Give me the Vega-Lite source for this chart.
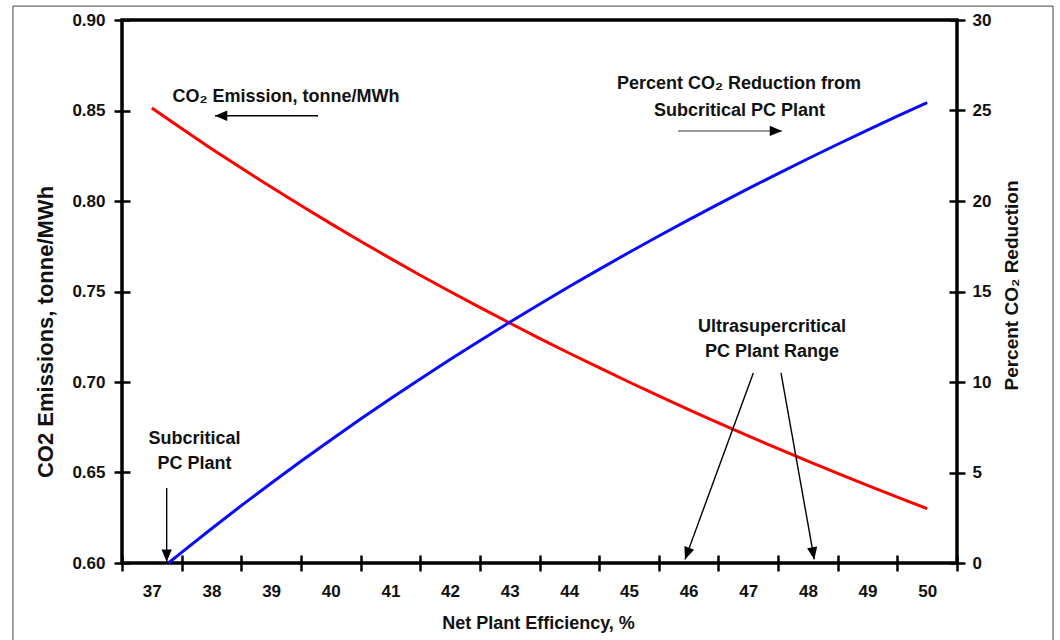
{
  "$schema": "https://vega.github.io/schema/vega-lite/v6.json",
  "width": 835,
  "height": 543,
  "autosize": {"type": "none"},
  "padding": {"left": 122, "top": 20, "right": 103, "bottom": 77},
  "background": "white",
  "config": {
    "view": {"stroke": "black", "strokeWidth": 3.5},
    "axis": {
      "labelFont": "Liberation Sans",
      "labelFontWeight": "bold",
      "labelFontSize": 17,
      "labelColor": "#111111",
      "titleFont": "Liberation Sans",
      "titleFontWeight": "bold",
      "titleColor": "#111111",
      "domain": false,
      "grid": false,
      "ticks": true,
      "tickColor": "black",
      "tickWidth": 2.5,
      "tickSize": 16,
      "offset": -8,
      "labelFlush": false,
      "labelOverlap": false
    }
  },
  "datasets": {
    "emission": [
      {"x": 37.0, "y": 0.8514}, {"x": 37.5, "y": 0.84}, {"x": 38.0, "y": 0.8289},
      {"x": 38.5, "y": 0.8182}, {"x": 39.0, "y": 0.8077}, {"x": 39.5, "y": 0.7975},
      {"x": 40.0, "y": 0.7875}, {"x": 40.5, "y": 0.7778}, {"x": 41.0, "y": 0.7683},
      {"x": 41.5, "y": 0.759}, {"x": 42.0, "y": 0.75}, {"x": 42.5, "y": 0.7412},
      {"x": 43.0, "y": 0.7326}, {"x": 43.5, "y": 0.7241}, {"x": 44.0, "y": 0.7159},
      {"x": 44.5, "y": 0.7079}, {"x": 45.0, "y": 0.7}, {"x": 45.5, "y": 0.6923},
      {"x": 46.0, "y": 0.6848}, {"x": 46.5, "y": 0.6774}, {"x": 47.0, "y": 0.6702},
      {"x": 47.5, "y": 0.6632}, {"x": 48.0, "y": 0.6563}, {"x": 48.5, "y": 0.6495},
      {"x": 49.0, "y": 0.6429}, {"x": 49.5, "y": 0.6364}, {"x": 50.0, "y": 0.63}
    ],
    "reduction": [
      {"x": 37.28, "y": 0}, {"x": 37.5, "y": 0.587}, {"x": 38.0, "y": 1.895},
      {"x": 38.5, "y": 3.169}, {"x": 39.0, "y": 4.41}, {"x": 39.5, "y": 5.62},
      {"x": 40.0, "y": 6.8}, {"x": 40.5, "y": 7.951}, {"x": 41.0, "y": 9.073},
      {"x": 41.5, "y": 10.169}, {"x": 42.0, "y": 11.238}, {"x": 42.5, "y": 12.282},
      {"x": 43.0, "y": 13.302}, {"x": 43.5, "y": 14.299}, {"x": 44.0, "y": 15.273},
      {"x": 44.5, "y": 16.225}, {"x": 45.0, "y": 17.156}, {"x": 45.5, "y": 18.066},
      {"x": 46.0, "y": 18.957}, {"x": 46.5, "y": 19.828}, {"x": 47.0, "y": 20.681},
      {"x": 47.5, "y": 21.516}, {"x": 48.0, "y": 22.333}, {"x": 48.5, "y": 23.134},
      {"x": 49.0, "y": 23.918}, {"x": 49.5, "y": 24.687}, {"x": 50.0, "y": 25.44}
    ],
    "notes": [
      {"label": "CO₂ Emission, tonne/MWh", "x": 39.25, "y": 0.8576},
      {"label": "Percent CO₂ Reduction from", "x": 46.845, "y": 0.8646},
      {"label": "Subcritical PC Plant", "x": 46.853, "y": 0.8499},
      {"label": "Ultrasupercritical", "x": 47.398, "y": 0.7304},
      {"label": "PC Plant Range", "x": 47.398, "y": 0.7167},
      {"label": "Subcritical", "x": 37.716, "y": 0.6685},
      {"label": "PC Plant", "x": 37.716, "y": 0.6547}
    ],
    "arrows": [
      {"id": "A", "x": 39.786, "y": 0.8471, "x2": 38.059, "y2": 0.8471},
      {"id": "B", "x": 45.822, "y": 0.8387, "x2": 47.566, "y2": 0.8387},
      {"id": "C", "x": 47.085, "y": 0.705, "x2": 45.94, "y2": 0.602},
      {"id": "D", "x": 47.549, "y": 0.705, "x2": 48.107, "y2": 0.602},
      {"id": "E", "x": 37.249, "y": 0.6414, "x2": 37.249, "y2": 0.6007}
    ],
    "tips": [
      {"dir": "left", "x": 38.059, "y": 0.8471},
      {"dir": "right", "x": 47.566, "y": 0.8387},
      {"dir": "downleft", "x": 45.94, "y": 0.602},
      {"dir": "downright", "x": 48.107, "y": 0.602},
      {"dir": "down", "x": 37.249, "y": 0.6007}
    ],
    "frame": [
      {"x": 34.672, "x2": 52.11, "y": 0.9077, "y2": 0.5503}
    ]
  },
  "encoding": {
    "x": {
      "field": "x", "type": "quantitative",
      "scale": {"domain": [36.5, 50.5], "nice": false, "zero": false},
      "axis": {
        "orient": "bottom",
        "values": [36.5, 37.5, 38.5, 39.5, 40.5, 41.5, 42.5, 43.5, 44.5, 45.5, 46.5, 47.5, 48.5, 49.5, 50.5],
        "labelExpr": "datum.value < 37 ? '' : format(datum.value - 0.5, 'd')",
        "labelOffset": -29.82,
        "labelPadding": 12,
        "title": "Net Plant Efficiency, %",
        "titleFontSize": 18,
        "titleX": 416,
        "titleY": 68,
        "titleBaseline": "middle",
        "titleAlign": "center"
      }
    }
  },
  "layer": [
    {
      "encoding": {
        "y": {
          "field": "y", "type": "quantitative",
          "scale": {"domain": [0.6, 0.9], "nice": false, "zero": false},
          "axis": {
            "orient": "left",
            "values": [0.6, 0.65, 0.7, 0.75, 0.8, 0.85, 0.9],
            "format": ".2f",
            "labelPadding": 9,
            "title": "CO2 Emissions, tonne/MWh",
            "titleFontSize": 22,
            "titleAngle": 270,
            "titleX": -85,
            "titleY": 311.5,
            "titleBaseline": "middle",
            "titleAlign": "center"
          }
        }
      },
      "layer": [
        {
          "data": {"name": "frame"},
          "mark": {"type": "rect", "fill": null, "stroke": "#444444", "strokeWidth": 1, "clip": false},
          "encoding": {"x2": {"field": "x2"}, "y2": {"field": "y2"}}
        },
        {
          "data": {"name": "emission"},
          "mark": {"type": "line", "color": "#ff0000", "strokeWidth": 3}
        },
        {
          "data": {"name": "arrows"},
          "mark": {"type": "rule", "strokeWidth": 1.4, "clip": false},
          "encoding": {
            "x2": {"field": "x2"},
            "y2": {"field": "y2"},
            "color": {"condition": {"test": "datum.id === 'B'", "value": "#7a7a7a"}, "value": "black"}
          }
        },
        {
          "data": {"name": "tips"},
          "transform": [{"filter": "datum.dir === 'left'"}],
          "mark": {"type": "point", "shape": "M0,0L-0.42,1L0.42,1Z", "filled": true, "color": "black", "opacity": 1, "size": 600, "angle": 270, "strokeWidth": 0}
        },
        {
          "data": {"name": "tips"},
          "transform": [{"filter": "datum.dir === 'right'"}],
          "mark": {"type": "point", "shape": "M0,0L-0.42,1L0.42,1Z", "filled": true, "color": "black", "opacity": 1, "size": 600, "angle": 90, "strokeWidth": 0}
        },
        {
          "data": {"name": "tips"},
          "transform": [{"filter": "datum.dir === 'down'"}],
          "mark": {"type": "point", "shape": "M0,0L-0.42,1L0.42,1Z", "filled": true, "color": "black", "opacity": 1, "size": 600, "angle": 180, "strokeWidth": 0}
        },
        {
          "data": {"name": "tips"},
          "transform": [{"filter": "datum.dir === 'downleft'"}],
          "mark": {"type": "point", "shape": "M0,0L-0.42,1L0.42,1Z", "filled": true, "color": "black", "opacity": 1, "size": 600, "angle": 200, "strokeWidth": 0}
        },
        {
          "data": {"name": "tips"},
          "transform": [{"filter": "datum.dir === 'downright'"}],
          "mark": {"type": "point", "shape": "M0,0L-0.42,1L0.42,1Z", "filled": true, "color": "black", "opacity": 1, "size": 600, "angle": 170, "strokeWidth": 0}
        },
        {
          "data": {"name": "notes"},
          "mark": {"type": "text", "font": "Liberation Sans", "fontWeight": "bold", "fontSize": 18, "color": "#111111", "align": "center", "baseline": "middle"},
          "encoding": {"text": {"field": "label"}}
        }
      ]
    },
    {
      "data": {"name": "reduction"},
      "mark": {"type": "line", "color": "#0a0aff", "strokeWidth": 3},
      "encoding": {
        "y": {
          "field": "y", "type": "quantitative",
          "scale": {"domain": [0, 30], "nice": false, "zero": false},
          "axis": {
            "orient": "right",
            "values": [0, 5, 10, 15, 20, 25, 30],
            "labelPadding": 7,
            "title": "Percent CO₂ Reduction",
            "titleFontSize": 19,
            "titleAngle": 270,
            "titleX": 62.7,
            "titleY": 265,
            "titleBaseline": "middle",
            "titleAlign": "center"
          }
        }
      }
    }
  ],
  "resolve": {"scale": {"y": "independent"}, "axis": {"y": "independent"}}
}
